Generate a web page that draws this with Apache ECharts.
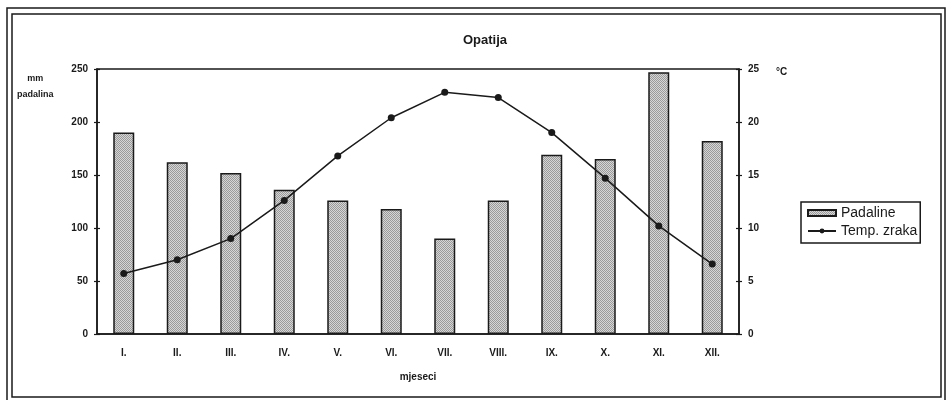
<!DOCTYPE html>
<html>
<head>
<meta charset="utf-8">
<script src="https://cdn.jsdelivr.net/npm/echarts@6/dist/echarts.min.js"></script>
<style>
  html, body { margin: 0; padding: 0; background: #fff; }
  #chart { width: 948px; height: 400px; }
</style>
</head>
<body>
<div id="chart"></div>
<script>
// mjeseci
const months = ['I.', 'II.', 'III.', 'IV.', 'V.', 'VI.', 'VII.', 'VIII.', 'IX.', 'X.', 'XI.', 'XII.'];
// padaline (mm)
const padaline = [190, 162, 152, 136, 126, 118, 90, 126, 169, 165, 247, 182];
// temperatura zraka (°C)
const tempZraka = [5.7, 7.0, 9.0, 12.6, 16.8, 20.4, 22.8, 22.3, 19.0, 14.7, 10.2, 6.6];
// oznake osi
const mmTicks = [0, 50, 100, 150, 200, 250];
const cTicks = [0, 5, 10, 15, 20, 25];

const font = 'Liberation Sans, Arial, sans-serif';
const ink = '#1a1a1a';

// točkasti uzorak za stupce
function makePattern() {
	const c = document.createElement('canvas');
	c.width = 2;
	c.height = 2;
	const ctx = c.getContext('2d');
	ctx.fillStyle = '#d6d6d6';
	ctx.fillRect(0, 0, 2, 2);
	ctx.fillStyle = '#9a9a9a';
	ctx.fillRect(0, 0, 1, 1);
	ctx.fillRect(1, 1, 1, 1);
	return { image: c, repeat: 'repeat' };
}

const chart = echarts.init(document.getElementById('chart'), null, { renderer: 'canvas' });

const axisLabel = { color: ink, fontFamily: font, fontSize: 10, fontWeight: 'bold' };

chart.setOption({
	backgroundColor: '#fff',
	animation: false,
	title: {
		text: 'Opatija',
		left: 458,
		top: 29,
		textStyle: { fontFamily: font, fontSize: 13, fontWeight: 'bold', color: ink }
	},
	legend: {
		orient: 'vertical',
		left: 801,
		top: 202,
		padding: [4, 3, 5, 6],
		itemGap: 4,
		itemWidth: 28,
		itemHeight: 6,
		borderColor: ink,
		borderWidth: 1.5,
		textStyle: { fontFamily: font, fontSize: 14, color: ink },
		data: [{ name: 'Padaline', icon: 'rect' }, { name: 'Temp. zraka' }]
	},
	grid: {
		left: 97,
		right: 209,
		top: 69,
		bottom: 66,
		show: true,
		borderColor: ink,
		borderWidth: 1.5
	},
	xAxis: [
		{
			type: 'category',
			data: months,
			name: 'mjeseci',
			nameLocation: 'middle',
			nameGap: 38,
			nameTextStyle: { fontFamily: font, fontSize: 10, fontWeight: 'bold', color: ink },
			axisLine: { lineStyle: { color: ink, width: 1.5 } },
			axisTick: { length: 3, lineStyle: { color: ink, width: 1.2 } },
			axisLabel: Object.assign({ margin: 14 }, axisLabel)
		},
		{
			// unutarnje crtice
			type: 'category',
			data: months,
			position: 'bottom',
			axisLine: { show: false },
			axisTick: { inside: true, length: 3, lineStyle: { color: ink, width: 1.2 } },
			axisLabel: { show: false }
		}
	],
	yAxis: [
		{
			type: 'value',
			min: mmTicks[0],
			max: mmTicks[mmTicks.length - 1],
			interval: 50,
			position: 'left',
			splitLine: { show: false },
			axisLine: { show: true, lineStyle: { color: ink, width: 1.5 } },
			axisTick: { show: true, length: 3, lineStyle: { color: ink, width: 1.2 } },
			axisLabel: Object.assign({ margin: 9 }, axisLabel)
		},
		{
			type: 'value',
			min: cTicks[0],
			max: cTicks[cTicks.length - 1],
			interval: 5,
			position: 'right',
			splitLine: { show: false },
			axisLine: { show: true, lineStyle: { color: ink, width: 1.5 } },
			axisTick: { show: true, length: 3, lineStyle: { color: ink, width: 1.2 } },
			axisLabel: Object.assign({ margin: 9 }, axisLabel)
		},
		{
			type: 'value',
			min: 0, max: 250, interval: 50,
			position: 'left',
			splitLine: { show: false },
			axisLine: { show: false },
			axisTick: { show: true, inside: true, length: 3, lineStyle: { color: ink, width: 1.2 } },
			axisLabel: { show: false }
		},
		{
			type: 'value',
			min: 0, max: 25, interval: 5,
			position: 'right',
			splitLine: { show: false },
			axisLine: { show: false },
			axisTick: { show: true, inside: true, length: 3, lineStyle: { color: ink, width: 1.2 } },
			axisLabel: { show: false }
		}
	],
	graphic: [
		// okvir
		{ type: 'rect', shape: { x: 7, y: 8, width: 938, height: 396 }, style: { fill: 'none', stroke: ink, lineWidth: 1.5 }, silent: true },
		{ type: 'rect', shape: { x: 12, y: 14, width: 929, height: 383 }, style: { fill: 'none', stroke: ink, lineWidth: 1.5 }, silent: true },
		{
			type: 'text', left: 17, top: 71,
			style: { text: 'mm\npadalina', fill: ink, font: 'bold 9px ' + font, textAlign: 'center', lineHeight: 16 },
			silent: true
		},
		{
			type: 'text', left: 776, top: 67,
			style: { text: '°C', fill: ink, font: 'bold 10px ' + font },
			silent: true
		}
	],
	series: [
		{
			name: 'Padaline',
			type: 'bar',
			xAxisIndex: 0,
			yAxisIndex: 0,
			barWidth: 21,
			data: padaline,
			itemStyle: { color: makePattern(), borderColor: ink, borderWidth: 1.5 },
			z: 2
		},
		{
			name: 'Temp. zraka',
			type: 'line',
			xAxisIndex: 0,
			yAxisIndex: 1,
			data: tempZraka,
			symbol: 'circle',
			symbolSize: 7,
			lineStyle: { color: ink, width: 1.5 },
			itemStyle: { color: ink },
			z: 3
		}
	]
});
</script>
</body>
</html>
